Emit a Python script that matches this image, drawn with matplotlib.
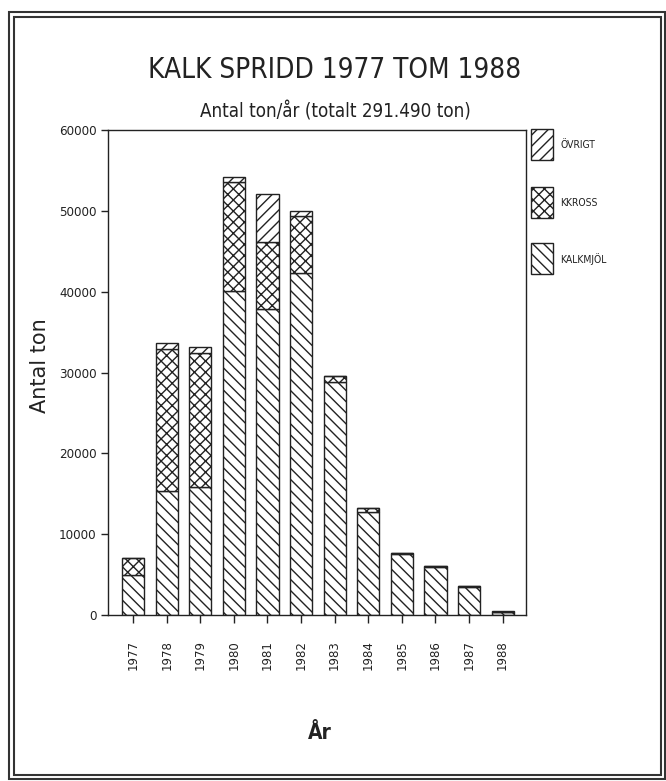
import matplotlib
matplotlib.use('Agg')
import matplotlib.pyplot as plt
from matplotlib.patches import Rectangle
import numpy as np

years = ['1977', '1978', '1979', '1980', '1981', '1982',
         '1983', '1984', '1985', '1986', '1987', '1988']
kalkmjol = [4900, 15400, 15850, 40100, 37900, 42300, 28800, 12750, 7600, 6000, 3450, 350]
kkross = [2100, 17500, 16550, 13500, 8300, 7100, 800, 500, 100, 50, 150, 0]
ovrigt = [50, 800, 750, 600, 5900, 600, 0, 0, 0, 0, 0, 150]
series = ['ÖVRIGT', 'KKROSS', 'KALKMJÖL']

ink = '#222222'
cond = dict(fontfamily='DejaVu Sans', fontstretch='condensed')
plt.rcParams['hatch.linewidth'] = 1.0
plt.rcParams['hatch.color'] = ink

fig = plt.figure(figsize=(6.66, 7.81), dpi=100)
ax = fig.add_axes([0.162, 0.2125, 0.628, 0.621])

x = np.arange(len(years))
w = 0.66
kalk = np.array(kalkmjol)
kk = np.array(kkross)
ov = np.array(ovrigt)
hatches = {'KALKMJÖL': '\\\\\\', 'KKROSS': 'xxx', 'ÖVRIGT': '///'}

ax.bar(x, kalk, w, color='white', edgecolor=ink, hatch=hatches['KALKMJÖL'], linewidth=1.0)
ax.bar(x, kk, w, bottom=kalk, color='white', edgecolor=ink, hatch=hatches['KKROSS'], linewidth=1.0)
ax.bar(x, ov, w, bottom=kalk + kk, color='white', edgecolor=ink, hatch=hatches['ÖVRIGT'],
       linewidth=1.0)

ax.set_xlim(-0.75, 11.7)
ax.set_ylim(0, 60000)
ax.set_yticks([0, 10000, 20000, 30000, 40000, 50000, 60000])
ax.set_yticklabels(['0', '10000', '20000', '30000', '40000', '50000', '60000'],
                   fontsize=9.5, **cond)
ax.set_xticks(x)
ax.set_xticklabels(years, rotation=90, fontsize=8.5)
ax.tick_params(axis='x', length=6, width=1.0, direction='out', pad=12, colors=ink)
ax.tick_params(axis='y', length=5, width=1.0, direction='out', pad=3, colors=ink)
for s in ax.spines.values():
    s.set_linewidth(1.0)
    s.set_color(ink)

ax.set_ylabel('Antal ton', fontsize=15, color=ink)
ax.yaxis.set_label_coords(-0.139, 0.515)
ax.set_xlabel('År', fontsize=15, fontweight='bold', color=ink, **cond)
ax.xaxis.set_label_coords(0.507, -0.222)

# legend boxes to the right of the axes
tops = [1.002, 0.882, 0.767]
for name, top in zip(series, tops):
    ax.add_patch(Rectangle((1.012, top - 0.064), 0.0526, 0.064, transform=ax.transAxes,
                           clip_on=False, facecolor='white', edgecolor=ink,
                           hatch=hatches[name], linewidth=1.0))
    ax.text(1.081, top - 0.032, name, transform=ax.transAxes, ha='left', va='center',
            fontsize=7.5, color=ink, **cond)

fig.text(0.503, 0.911, 'KALK SPRIDD 1977 TOM 1988', ha='center', va='center',
         fontsize=20, color=ink, **cond)
fig.text(0.503, 0.857, 'Antal ton/år (totalt 291.490 ton)', ha='center', va='center',
         fontsize=13.5, color=ink, **cond)

# double frame around the page
fig.patches.append(Rectangle((9 / 666, 2 / 781), 656 / 666, 767 / 781, transform=fig.transFigure,
                             fill=False, linewidth=1.5, edgecolor='#333333'))
fig.patches.append(Rectangle((14 / 666, 6 / 781), 647 / 666, 758 / 781, transform=fig.transFigure,
                             fill=False, linewidth=1.5, edgecolor='#333333'))

fig.savefig('out.png', dpi=100)
